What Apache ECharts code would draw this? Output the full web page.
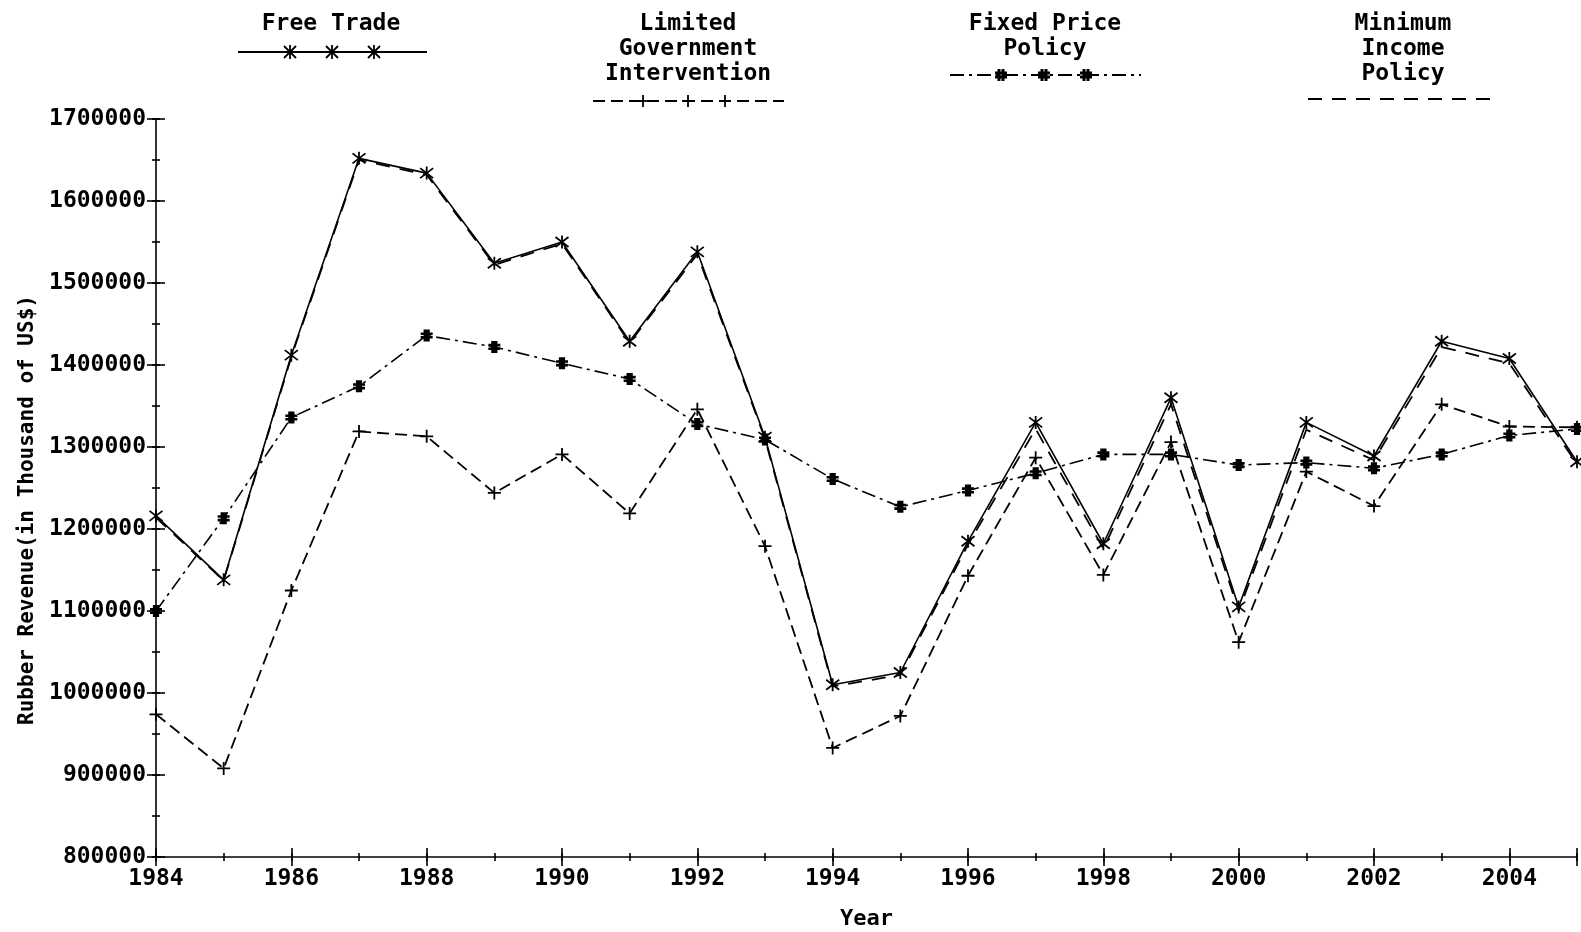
<!DOCTYPE html>
<html>
<head>
<meta charset="UTF-8">
<title>Rubber Revenue</title>
<script src="https://cdn.jsdelivr.net/npm/echarts@6/dist/echarts.min.js"></script>
<style>
  html, body { margin: 0; padding: 0; background: #fff; }
  #chart { width: 1581px; height: 932px; }
</style>
</head>
<body>
<div id="chart"></div>
<script>
// years and revenue (thousand US$)
var years = [1984, 1985, 1986, 1987, 1988, 1989, 1990, 1991, 1992, 1993, 1994,
             1995, 1996, 1997, 1998, 1999, 2000, 2001, 2002, 2003, 2004, 2005];
var freeTrade  = [1216000, 1138000, 1412000, 1652000, 1634000, 1524000, 1550000, 1429000, 1538000, 1312000, 1010000,
                  1025000, 1185000, 1330000, 1182000, 1360000, 1105000, 1330000, 1289000, 1429000, 1408000, 1282000];
var limitedGov = [974000, 908000, 1125000, 1319000, 1313000, 1244000, 1291000, 1219000, 1346000, 1179000, 933000,
                  972000, 1143000, 1287000, 1144000, 1306000, 1062000, 1270000, 1228000, 1352000, 1325000, 1324000];
var fixedPrice = [1100000, 1213000, 1336000, 1374000, 1436000, 1422000, 1402000, 1383000, 1328000, 1309000, 1261000,
                  1227000, 1247000, 1268000, 1291000, 1291000, 1278000, 1281000, 1274000, 1291000, 1314000, 1322000];
var minIncome  = [1214000, 1137000, 1410000, 1650000, 1632000, 1522000, 1548000, 1427000, 1535000, 1310000, 1008000,
                  1022000, 1181000, 1322000, 1176000, 1352000, 1100000, 1321000, 1284000, 1422000, 1402000, 1279000];
var seriesNames = ['Free Trade', 'Limited Government Intervention', 'Fixed Price Policy', 'Minimum Income Policy'];
var legendLabels = ['Free Trade', 'Limited\nGovernment\nIntervention', 'Fixed Price\nPolicy', 'Minimum\nIncome\nPolicy'];

var FONT = 'DejaVu Sans Mono';
var STAR = 'path://M0,0L10,10M10,0L0,10M5,-1.5L5,11.5';
var PLUS = 'path://M5,0L5,10M0,5L10,5';
var HASH = 'path://M3.5,0L3.5,10M6.5,0L6.5,10M0,3.5L10,3.5M0,6.5L10,6.5M5,0L5,10';

function pairs(vals) {
  return years.map(function (y, i) { return [y, vals[i]]; });
}

// little marker drawings for the legend samples
function markerLines(kind, cx, cy) {
  var s = 6, out = [];
  function seg(x1, y1, x2, y2, w) {
    out.push({ type: 'line', shape: { x1: cx + x1, y1: cy + y1, x2: cx + x2, y2: cy + y2 },
               style: { stroke: '#000', lineWidth: w } });
  }
  if (kind === 'star') {
    seg(-s, -s, s, s, 1.8); seg(s, -s, -s, s, 1.8); seg(0, -s - 1, 0, s + 1, 1.8);
  } else if (kind === 'plus') {
    seg(-s, 0, s, 0, 1.8); seg(0, -s, 0, s, 1.8);
  } else if (kind === 'hash') {
    seg(-2, -s, -2, s, 3); seg(2, -s, 2, s, 3); seg(-s, -2, s, -2, 3); seg(-s, 2, s, 2, 3);
  }
  return out;
}

var legendDefs = [
  { cx: 331,  lineY: 52,  x1: 238,  x2: 427,  dash: null,          kind: 'star', marks: [290, 332, 374] },
  { cx: 688,  lineY: 101, x1: 593,  x2: 784,  dash: [12, 6],       kind: 'plus', marks: [643, 688, 725] },
  { cx: 1045, lineY: 75,  x1: 950,  x2: 1141, dash: [14, 5, 3, 5], kind: 'hash', marks: [1001, 1044, 1086] },
  { cx: 1403, lineY: 99,  x1: 1308, x2: 1500, dash: [14, 10],      kind: null,   marks: [] }
];

var graphics = [];
legendDefs.forEach(function (d, i) {
  graphics.push({
    type: 'text', x: d.cx, y: 12,
    style: { text: legendLabels[i], fill: '#000', font: 'bold 23px "' + FONT + '"',
             textAlign: 'center', textVerticalAlign: 'top', lineHeight: 25 }
  });
  graphics.push({
    type: 'line', shape: { x1: d.x1, y1: d.lineY, x2: d.x2, y2: d.lineY },
    style: { stroke: '#000', lineWidth: 1.8, lineDash: d.dash }
  });
  d.marks.forEach(function (mx) {
    graphics = graphics.concat(markerLines(d.kind, mx, d.lineY));
  });
});

var axisBlack = { color: '#000', width: 1.6 };
var noSplit = { show: false };

// main plot grid, then helper grids whose axes sit a few px inside the
// main axes so that their outward ticks cross the main axis lines
var G = { left: 156, right: 4, top: 119, bottom: 75 };
var grids = [
  { left: G.left, right: G.right, top: G.top, bottom: G.bottom },
  { left: G.left + 9, right: G.right, top: G.top, bottom: G.bottom },
  { left: G.left + 4, right: G.right, top: G.top, bottom: G.bottom },
  { left: G.left, right: G.right, top: G.top, bottom: G.bottom + 9 },
  { left: G.left, right: G.right, top: G.top, bottom: G.bottom + 4 }
];
grids.forEach(function (g) { g.containLabel = false; g.outerBoundsMode = 'none'; });

function hiddenAxis(gi, isX) {
  return isX ? { type: 'value', gridIndex: gi, show: false, min: 1984, max: 2005 }
             : { type: 'value', gridIndex: gi, show: false, min: 800000, max: 1700000 };
}
function xTickAxis(gi, interval, len) {
  return {
    type: 'value', gridIndex: gi, position: 'bottom', min: 1984, max: 2005, interval: interval,
    axisLine: { show: false }, axisTick: { show: true, length: len, lineStyle: axisBlack },
    axisLabel: { show: false }, splitLine: noSplit
  };
}
function yTickAxis(gi, interval, len) {
  return {
    type: 'value', gridIndex: gi, position: 'left', min: 800000, max: 1700000, interval: interval,
    axisLine: { show: false }, axisTick: { show: true, length: len, lineStyle: axisBlack },
    axisLabel: { show: false }, splitLine: noSplit
  };
}

var chart = echarts.init(document.getElementById('chart'), null, { renderer: 'canvas' });
var option = {
  backgroundColor: '#fff',
  animation: false,
  grid: grids,
  graphic: graphics,
  xAxis: [
    {
      type: 'value', gridIndex: 0, position: 'bottom', min: 1984, max: 2005, interval: 2,
      axisLine: { show: true, lineStyle: axisBlack },
      axisTick: { show: false },
      axisLabel: {
        color: '#000', fontFamily: FONT, fontWeight: 'bold', fontSize: 23, margin: 11,
        formatter: function (v) { return v % 2 === 0 ? String(v) : ''; }
      },
      splitLine: noSplit,
      name: 'Year', nameLocation: 'middle', nameGap: 51,
      nameTextStyle: { color: '#000', fontFamily: FONT, fontWeight: 'bold', fontSize: 22 }
    },
    hiddenAxis(1, true),
    hiddenAxis(2, true),
    xTickAxis(3, 2, 18),
    xTickAxis(4, 1, 8)
  ],
  yAxis: [
    {
      type: 'value', gridIndex: 0, position: 'left', min: 800000, max: 1700000, interval: 100000,
      axisLine: { show: true, lineStyle: axisBlack },
      axisTick: { show: false },
      axisLabel: {
        color: '#000', fontFamily: FONT, fontWeight: 'bold', fontSize: 23, margin: 10,
        formatter: function (v) { return String(v); }
      },
      splitLine: noSplit,
      name: 'Rubber Revenue(in Thousand of US$)', nameLocation: 'middle', nameGap: 108, nameRotate: 90,
      nameTextStyle: { color: '#000', fontFamily: FONT, fontWeight: 'bold', fontSize: 21, padding: [0, 44, 0, 0] }
    },
    yTickAxis(1, 100000, 18),
    yTickAxis(2, 50000, 8),
    hiddenAxis(3, false),
    hiddenAxis(4, false)
  ],
  series: [
    {
      name: seriesNames[3], type: 'line', data: pairs(minIncome), symbol: 'none', z: 2,
      lineStyle: { color: '#000', width: 1.8, type: [14, 10] }
    },
    {
      name: seriesNames[1], type: 'line', data: pairs(limitedGov), z: 3,
      symbol: PLUS, symbolSize: 13,
      lineStyle: { color: '#000', width: 1.8, type: [12, 6] },
      itemStyle: { color: '#000', borderColor: '#000', borderWidth: 1.8 }
    },
    {
      name: seriesNames[2], type: 'line', data: pairs(fixedPrice), z: 4,
      symbol: HASH, symbolSize: 12,
      lineStyle: { color: '#000', width: 1.6, type: [14, 5, 3, 5] },
      itemStyle: { color: '#000', borderColor: '#000', borderWidth: 2.6 }
    },
    {
      name: seriesNames[0], type: 'line', data: pairs(freeTrade), z: 5,
      symbol: STAR, symbolSize: 13,
      lineStyle: { color: '#000', width: 1.6, type: 'solid' },
      itemStyle: { color: '#000', borderColor: '#000', borderWidth: 1.8 }
    }
  ]
};
chart.setOption(option);
window.addEventListener('resize', function () { chart.resize(); });
</script>
</body>
</html>
